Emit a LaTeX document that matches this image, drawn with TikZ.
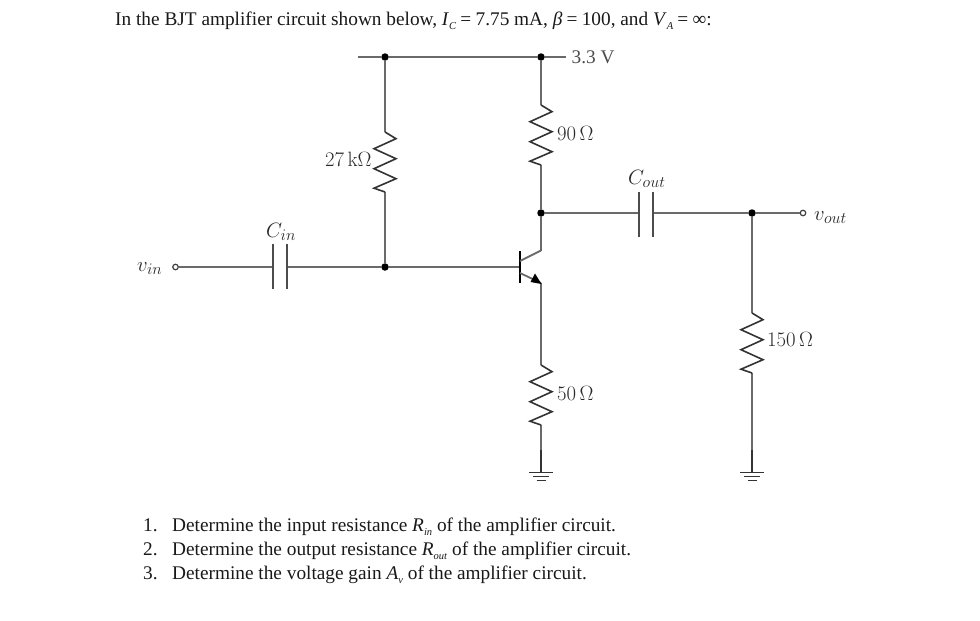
\documentclass[tikz,border=0pt]{standalone}
\usepackage[no-math]{fontspec}
\setmainfont{Liberation Serif}
\usetikzlibrary{calc}
\definecolor{wire}{HTML}{6A6A6A}
\definecolor{lbl}{HTML}{2A2A2A}
\tikzset{
  wireline/.style={draw=wire,line width=1.8pt},
  darkline/.style={draw=black!80,line width=1.6pt},
  plate/.style={draw=black!70,line width=1.8pt},
  junction/.style={circle,fill=black,inner sep=0pt,minimum size=7.5pt},
  terminal/.style={circle,draw=black!75,fill=white,line width=1.2pt,inner sep=0pt,minimum size=5.5pt},
  txt/.style={anchor=base west,inner sep=0pt,text=black!90,font=\fontsize{19.3}{24}\selectfont},
  cirlbl/.style={anchor=base west,inner sep=0pt,text=lbl,font=\fontsize{19.3}{22}\selectfont},
  cirsmall/.style={anchor=base west,inner sep=0pt,text=lbl,font=\fontsize{19.2}{22}\selectfont},
}
\newcommand{\resistor}[2]{%
  \draw[darkline,line join=miter] (#1) -- ++(11,6.7) -- ++(-22,10) -- ++(22,10) -- ++(-22,10) -- ++(22,10) -- ++(-22,9.5) -- (#2);}
\newcommand{\groundsym}[1]{%
  \draw[darkline] (#1) ++(-12,0) -- ++(24,0);
  \draw[darkline] (#1) ++(-8,4) -- ++(16,0);
  \draw[darkline] (#1) ++(-4.5,8) -- ++(9,0);}
\newcommand{\sub}[1]{\raisebox{-0.22em}{\fontsize{10.5}{11}\selectfont\textit{#1}}}
\newcommand{\eqs}{\hspace{0.22em}=\hspace{0.22em}}
\newcommand{\bigsub}[1]{\scalebox{1.12}{$\scriptstyle #1$}}
\begin{document}
\begin{tikzpicture}[x=1pt,y=-1pt]
\useasboundingbox[fill=white] (0,0) rectangle (980,621);
\node[txt] (title) at (115,25.5) {In the BJT amplifier circuit shown below, \textit{I}\sub{C}\eqs{}7.75 mA, \textit{β}\eqs{}100, and \textit{V}\sub{A}\eqs{}∞:};
\node[txt] (q1) at (143,531.5) {1.\hspace{0.75em}Determine the input resistance \textit{R}\sub{in} of the amplifier circuit.};
\node[txt] (q2) at (143,555.5) {2.\hspace{0.75em}Determine the output resistance \textit{R}\sub{out} of the amplifier circuit.};
\node[txt] (q3) at (143,579.5) {3.\hspace{0.75em}Determine the voltage gain \textit{A}\sub{v} of the amplifier circuit.};
\coordinate (railL) at (358,57);
\coordinate (railR) at (566,57);
\node[junction] (jA) at (385,57) {};
\node[junction] (jB) at (541,57) {};
\node[junction] (jC) at (541,213) {};
\node[junction] (jD) at (385,267) {};
\node[junction] (jE) at (752,213) {};
\node[terminal] (vin) at (175.5,267) {};
\node[terminal] (vout) at (803,213) {};
\coordinate (r1a) at (385,132); \coordinate (r1b) at (385,192);
\coordinate (r2a) at (541,105);   \coordinate (r2b) at (541,165);
\coordinate (r3a) at (541,365);   \coordinate (r3b) at (541,425);
\coordinate (r4a) at (752,313); \coordinate (r4b) at (752,373);
\coordinate (g1s) at (541,450);   \coordinate (g1) at (541,472.5);
\coordinate (g2s) at (752,450); \coordinate (g2) at (752,472.5);
\coordinate (cinL) at (273,267);  \coordinate (cinR) at (287,267);
\coordinate (coutL) at (639,213); \coordinate (coutR) at (653,213);
\coordinate (base) at (520,267);
\coordinate (cK) at (541,250.5);
\coordinate (eK) at (541,283);
\draw[wireline] (railL) -- (jA) -- (jB) -- (railR);
\draw[wireline] (jA) -- (r1a);
\draw[wireline] (r1b) -- (jD);
\draw[wireline] (jB) -- (r2a);
\draw[wireline] (r2b) -- (jC);
\draw[wireline] (jC) -- (cK);
\draw[wireline] (vin) -- (cinL);
\draw[wireline] (cinR) -- (jD) -- (base);
\draw[wireline] (jC) -- (coutL);
\draw[wireline] (coutR) -- (jE) -- (vout);
\draw[wireline] (jE) -- (r4a);
\draw[wireline] (eK) -- (r3a);
\draw[wireline] (r3b) -- (g1s);
\draw[wireline] (r4b) -- (g2s);
\draw[darkline] (g1s) -- (g1);
\draw[darkline] (g2s) -- (g2);
\resistor{r1a}{r1b}
\resistor{r2a}{r2b}
\resistor{r3a}{r3b}
\resistor{r4a}{r4b}
\groundsym{g1}
\groundsym{g2}
\draw[plate] (273,244) -- (273,289);
\draw[plate] (287,244) -- (287,289);
\draw[plate] (639,192) -- (639,237);
\draw[plate] (653,192) -- (653,237);
\draw[black,line width=2.2pt] (520,251) -- (520,283);
\draw[wireline] (520,261) -- (cK);
\draw[wireline] (520,273) -- (eK);
\fill[black] (541.5,284) -- (530.5,282) -- (535,273.5) -- cycle;
\node[anchor=base west,inner sep=0pt,text=black!70,font=\fontsize{19.3}{24}\selectfont] (vcc) at (571.5,63) {3.3 V};
\node[cirlbl] (l27) at (325,166) {$\mathrm{27\,k\Omega}$};
\node[cirlbl] (l90) at (557,140) {$\mathrm{90\,\Omega}$};
\node[cirlbl] (l50) at (557,400) {$\mathrm{50\,\Omega}$};
\node[cirlbl] (l150) at (767,346) {$\mathrm{150\,\Omega}$};
\node[cirsmall] (lcin) at (266,237) {$C_{\bigsub{in}}$};
\node[cirsmall] (lcout) at (628,184) {$C_{\bigsub{out}}$};
\node[cirsmall] (lvin) at (137,271) {$v_{\bigsub{in}}$};
\node[cirsmall] (lvout) at (814,220) {$v_{\bigsub{out}}$};
\end{tikzpicture}
\end{document}
